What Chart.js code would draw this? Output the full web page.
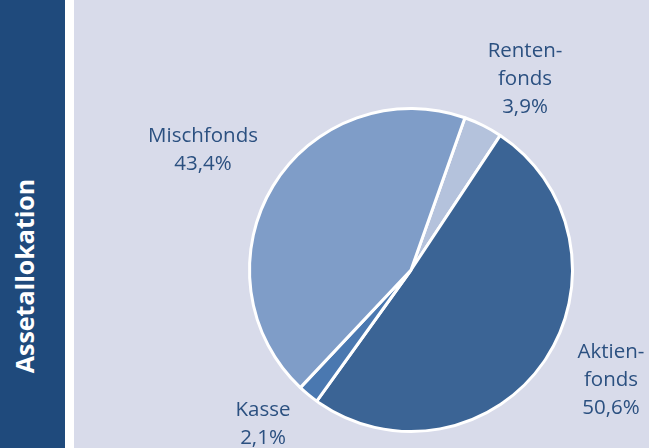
<!DOCTYPE html>
<html>
<head>
<meta charset="utf-8">
<script src="https://cdn.jsdelivr.net/npm/chart.js@4/dist/chart.umd.min.js"></script>
<style>
  html, body { margin: 0; padding: 0; width: 649px; height: 448px; overflow: hidden; background: #d8dbea; }
  #side { position: absolute; left: 0; top: 0; width: 65px; height: 448px; background: #1f4a7c; }
  #gap { position: absolute; left: 65px; top: 0; width: 9px; height: 448px; background: #ffffff; }
  #title { position: absolute; left: 24px; top: 276px; transform: translate(-50%, -50%) rotate(-90deg);
           color: #ffffff; font-family: "Open Sans", sans-serif; font-weight: bold; font-size: 25px; white-space: nowrap; }
  #wrap { position: absolute; left: 0; top: 0; width: 649px; height: 448px; }
</style>
</head>
<body>
<div id="side"></div>
<div id="gap"></div>
<div id="title">Assetallokation</div>
<div id="wrap"><canvas id="c"></canvas></div>
<script>
const categories = ["Rentenfonds", "Aktienfonds", "Kasse", "Mischfonds"];
const values = [3.9, 50.6, 2.1, 43.4];
const labelLines = [["Renten-", "fonds", "3,9%"], ["Aktien-", "fonds", "50,6%"], ["Kasse", "2,1%"], ["Mischfonds", "43,4%"]];
const colors = ["#b4c2dc", "#3b6495", "#4a78b0", "#7f9dc8"];
const labelPos = [[525, 51], [611, 352], [263, 410], [203, 136]];

const labelPlugin = {
  id: 'outLabels',
  afterDraw(chart) {
    const ctx = chart.ctx;
    ctx.save();
    ctx.fillStyle = '#2b5080';
    ctx.font = '20.5px "Open Sans", sans-serif';
    ctx.textAlign = 'center';
    ctx.textBaseline = 'middle';
    labelLines.forEach((lines, i) => {
      const [x, y] = labelPos[i];
      lines.forEach((t, j) => ctx.fillText(t, x, y + j * 28));
    });
    ctx.restore();
  }
};

new Chart(document.getElementById('c'), {
  type: 'pie',
  data: {
    labels: categories,
    datasets: [{ data: values, backgroundColor: colors, borderColor: '#ffffff', borderWidth: 3 }]
  },
  options: {
    responsive: true,
    maintainAspectRatio: false,
    animation: false,
    rotation: 19.5,
    layout: { padding: { left: 248, right: 75, top: 107, bottom: 15 } },
    plugins: { legend: { display: false }, tooltip: { enabled: false } }
  },
  plugins: [labelPlugin]
});
</script>
</body>
</html>
